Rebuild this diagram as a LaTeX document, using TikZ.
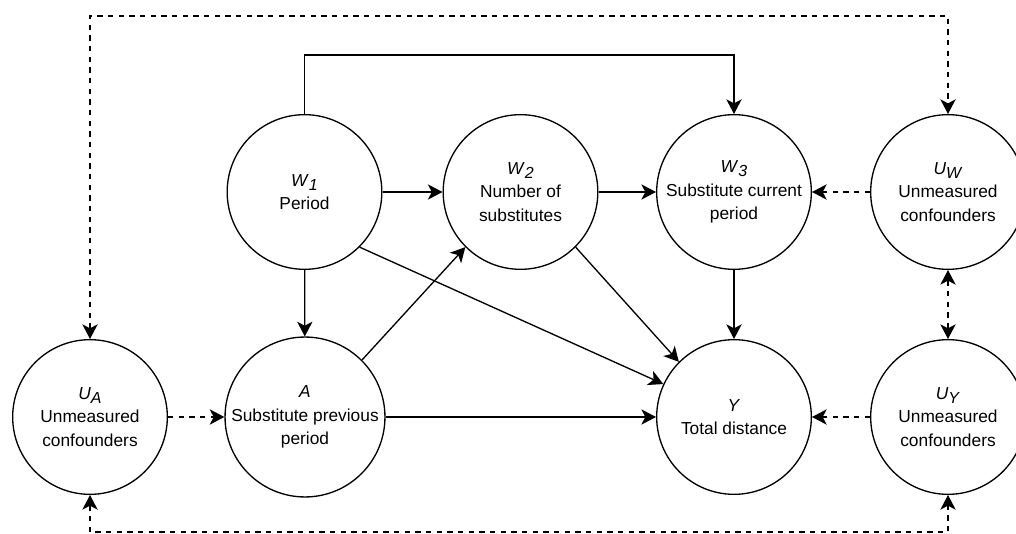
\documentclass[tikz,border=0pt]{standalone}
\usepackage{fontspec}
\setmainfont{Liberation Sans}
\usetikzlibrary{arrows.meta}
\newcommand{\vlab}[2]{\textit{#1}\raisebox{-3pt}{\fontsize{12}{12}\selectfont\textit{#2}}}
\tikzset{
  var/.style={circle, draw, line width=1pt, minimum size=116pt, inner sep=0pt, align=center,
    font=\fontsize{13}{17.5}\selectfont},
  edge/.style={line width=1pt, -{Stealth[length=11pt, width=11.5pt, inset=3pt]}},
  dedge/.style={edge, dash pattern=on 4pt off 4pt},
  bedge/.style={line width=1pt, dash pattern=on 4pt off 4pt,
    {Stealth[length=11pt, width=11.5pt, inset=3pt]}-{Stealth[length=11pt, width=11.5pt, inset=3pt]}}
}
\begin{document}
\begin{tikzpicture}[x=0.75pt, y=-0.75pt]
\clip (0,0) rectangle (1016,534);
\node[var] (W1) at (304.5,192) {\vlab{W}{1}\\Period};
\node[var] (W2) at (520.5,192) {\vlab{W}{2}\\Number of\\substitutes};
\node[var] (W3) at (734,192) {\vlab{W}{3}\\Substitute current\\period};
\node[var] (UW) at (948,192) {\vlab{U}{W}\\Unmeasured\\confounders};
\node[var] (UA) at (90,417) {\vlab{U}{A}\\Unmeasured\\confounders};
\node[var] (A) at (305,417) {\textit{A}\\Substitute previous\\period};
\node[var] (Y) at (734,417) {\textit{Y}\\Total distance};
\node[var] (UY) at (948,417) {\vlab{U}{Y}\\Unmeasured\\confounders};
\coordinate (top) at (0,55);
\coordinate (dtop) at (0,16);
\coordinate (dbot) at (0,532);

\draw[edge] (W1) -- (W2);
\draw[edge] (W2) -- (W3);
\draw[edge] (W1) -- (A);
\draw[edge] (W3) -- (Y);
\draw[edge] (A) -- (Y);
\draw[edge] (A.45) -- (W2.-135);
\draw[edge] (W1.-45) -- (Y.155);
\draw[edge] (W2.-45) -- (Y.135);
\draw[edge] (W1.north) -- (W1.north |- top) -| (W3.north);

\draw[dedge] (UW) -- (W3);
\draw[dedge] (UA) -- (A);
\draw[dedge] (UY) -- (Y);
\draw[bedge] (UW) -- (UY);
\draw[bedge] (UA.north) -- (UA.north |- dtop) -| (UW.north);
\draw[bedge] (UA.south) -- (UA.south |- dbot) -| (UY.south);
\end{tikzpicture}
\end{document}
